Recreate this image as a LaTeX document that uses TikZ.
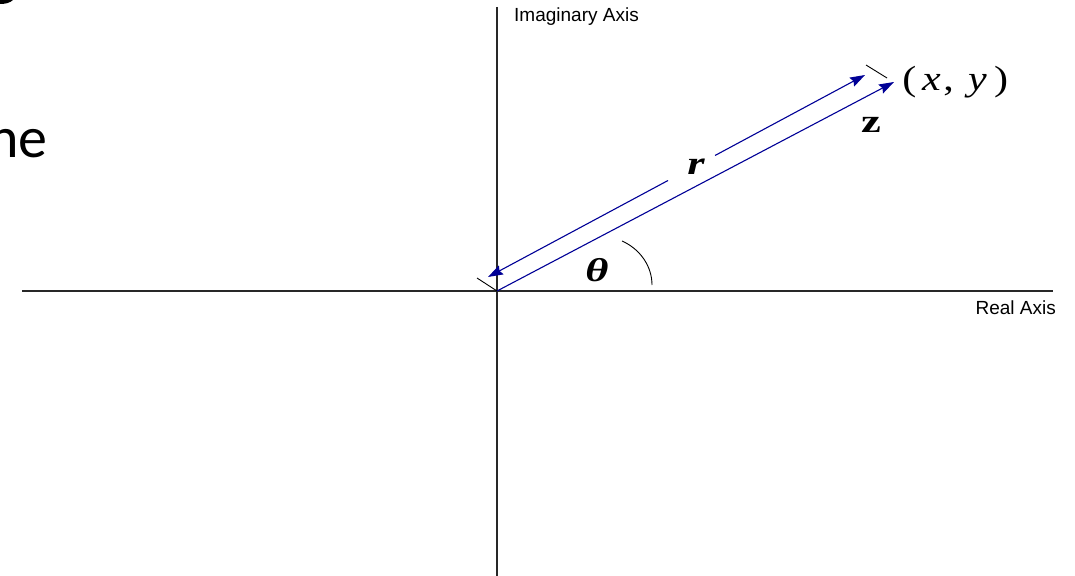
\documentclass[tikz,border=0pt]{standalone}
\usepackage{fontspec}
\setmainfont{Liberation Serif}
\newfontfamily\axisfont{Liberation Sans}
\newfontfamily\slidefont{Carlito}
\usetikzlibrary{arrows.meta}
\definecolor{vecblue}{RGB}{0,0,150}
\definecolor{axisgray}{RGB}{40,40,40}
\tikzset{
  axisline/.style={draw=axisgray, line width=1.4pt},
  vecline/.style={draw=vecblue, line width=1.1pt},
  tip/.style={-{Stealth[length=15pt,width=10pt,inset=2pt]}},
  tickline/.style={draw=black, line width=0.9pt},
  axislabel/.style={font=\axisfont\fontsize{19}{21}\selectfont, inner sep=0pt},
  mathlabel/.style={font=\fontsize{33}{35}\selectfont, inner sep=0pt, xscale=1.35},
  pointlabel/.style={font=\fontsize{35}{37}\selectfont, inner sep=0pt, xscale=1.2},
}
\begin{document}
\begin{tikzpicture}[x=1pt,y=-1pt]
\useasboundingbox (0,0) rectangle (1075,575);
\clip (0,0) rectangle (1075,575);
% slide residue
\node[font=\slidefont\fontsize{58}{60}\selectfont, anchor=base east, inner sep=0pt] (ne) at (48,157) {ne};
\fill (0,0) -- (13,0) .. controls (10,3) and (5,4) .. (0,4) -- cycle;
% axes
\coordinate (O) at (497,291);
\coordinate (vtop) at (497,7);
\coordinate (vbot) at (497,580);
\coordinate (hl) at (22,291);
\coordinate (hr) at (1053,291);
\draw[axisline] (vtop) -- (vbot);
\draw[axisline] (hl) -- (hr);
\node[axislabel, anchor=west] (imag) at (514,17) {Imaginary Axis};
\node[axislabel, anchor=east] (real) at (1056,308) {Real Axis};
% vector z
\coordinate (P) at (894,82);
\draw[vecline, tip] (O) -- (P);
% dimension line r
\coordinate (R1) at (488,277);
\coordinate (R2) at (865,75);
\coordinate (g1) at (668,180.5);
\coordinate (g2) at (715,155.5);
\draw[vecline, tip] (g1) -- (R1);
\draw[vecline, tip] (g2) -- (R2);
\node[mathlabel] (r) at (696,167) {\bfseries\itshape r};
% extension ticks
\coordinate (T1) at (477,278);
\coordinate (T2a) at (866,65);
\coordinate (T2b) at (887,78);
\draw[tickline] (T1) -- (O);
\draw[tickline] (T2a) -- (T2b);
% labels
\node[pointlabel, anchor=west] (xy) at (902,82) {(\hspace{5pt}\textit{x}\hspace{2pt},\hspace{12pt}\textit{y}\hspace{6pt})};
\node[mathlabel] (z) at (871,125) {\bfseries z};
\node[mathlabel] (theta) at (597,270) {\bfseries\itshape θ};
% angle arc
\coordinate (A1) at (622,241);
\coordinate (A2) at (652,285);
\draw[tickline] (A1) .. controls (640,249) and (652,266) .. (A2);
\end{tikzpicture}
\end{document}
